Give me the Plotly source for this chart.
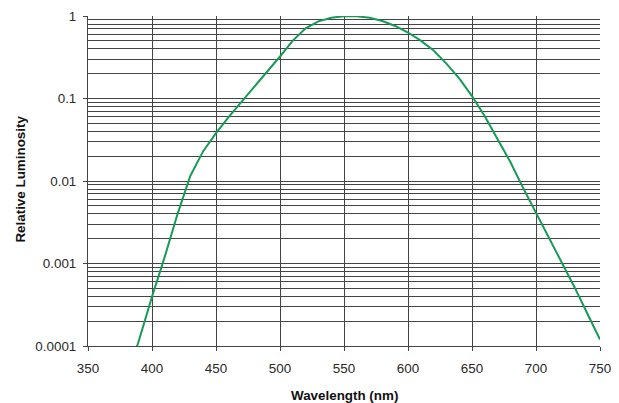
import plotly.graph_objects as go

wavelength = [380, 390, 400, 410, 420, 430, 440, 450, 460, 470, 480, 490, 500, 510, 520,
              530, 540, 550, 555, 560, 570, 580, 590, 600, 610, 620, 630, 640, 650, 660,
              670, 680, 690, 700, 710, 720, 730, 740, 750]
luminosity = [0.000039, 0.00012, 0.000396, 0.00121, 0.0040, 0.0116, 0.023, 0.038, 0.060,
              0.091, 0.139, 0.208, 0.323, 0.503, 0.710, 0.862, 0.954, 0.995, 1.0, 0.995,
              0.952, 0.870, 0.757, 0.631, 0.503, 0.381, 0.265, 0.175, 0.107, 0.061, 0.032,
              0.017, 0.00821, 0.004102, 0.002091, 0.001047, 0.00052, 0.000249, 0.00012]

x_ticks = [350, 400, 450, 500, 550, 600, 650, 700, 750]
y_ticks = [0.0001, 0.001, 0.01, 0.1, 1]
y_tick_labels = ["0.0001", "0.001", "0.01", "0.1", "1"]
y_minor = [m * 10 ** e for e in range(-4, 0) for m in range(2, 10)]

grid = "#444444"
FONT = "Liberation Sans, Arial, sans-serif"
fig = go.Figure()
fig.add_trace(go.Scatter(x=wavelength, y=luminosity, mode="lines",
                         line=dict(color="#169b57", width=2), showlegend=False))

fig.update_layout(
    width=619, height=403,
    margin=dict(l=88, r=19, t=16, b=57, autoexpand=False),
    paper_bgcolor="white", plot_bgcolor="white",
    font=dict(family=FONT, size=13.4, color="#2a2a2a"),
    annotations=[
        dict(text="<b>Wavelength (nm)</b>", xref="paper", yref="paper",
             x=0.5, y=-0.151, xanchor="center", yanchor="middle", showarrow=False,
             font=dict(family=FONT, size=13.4, color="#111")),
        dict(text="<b>Relative Luminosity</b>", xref="paper", yref="paper",
             x=-0.131, y=0.507, xanchor="center", yanchor="middle", showarrow=False,
             textangle=-90, font=dict(family=FONT, size=13.4, color="#111")),
    ],
)
fig.update_xaxes(
    range=[350, 750], tickmode="array", tickvals=x_ticks, automargin=False,
    showgrid=True, gridcolor=grid, gridwidth=1,
    showline=True, linecolor=grid, linewidth=1,
    ticks="outside", ticklen=4, tickcolor=grid, ticklabelstandoff=6,
    zeroline=False,
)
fig.update_yaxes(
    type="log", range=[-4, 0], tickmode="array", tickvals=y_ticks, ticktext=y_tick_labels,
    automargin=False,
    showgrid=True, gridcolor=grid, gridwidth=1,
    minor=dict(tickmode="array", tickvals=y_minor, showgrid=True, gridcolor=grid, gridwidth=1, ticks=""),
    showline=True, linecolor=grid, linewidth=1, mirror=False,
    ticks="outside", ticklen=4, tickcolor=grid, ticklabelstandoff=4,
    zeroline=False,
)
fig.write_html("out.html", config={"displayModeBar": False},
               post_script="document.body.style.margin='0';document.body.style.overflow='hidden';")
